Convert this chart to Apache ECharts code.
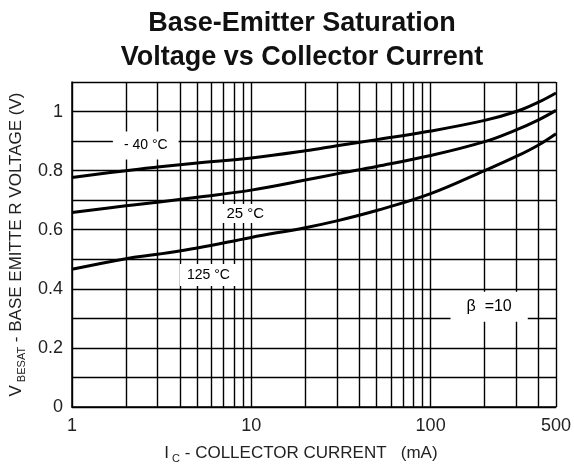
<!DOCTYPE html>
<html>
<head>
<meta charset="utf-8">
<script src="https://cdn.jsdelivr.net/npm/echarts@6/dist/echarts.min.js"></script>
<style>
  html, body { margin: 0; padding: 0; background: #fff; }
  #chart { width: 574px; height: 470px; }
</style>
</head>
<body>
<div id="chart"></div>
<script>
// collector current (mA), log scale
var currents = [1, 2, 3, 5, 10, 20, 30, 50, 100, 200, 300, 400, 500];
// V_BESAT (V) per temperature
var vMinus40 = [0.777, 0.800, 0.812, 0.826, 0.843, 0.867, 0.884, 0.905, 0.934, 0.970, 1.000, 1.032, 1.063];
var v25 = [0.658, 0.681, 0.693, 0.710, 0.734, 0.768, 0.789, 0.814, 0.851, 0.898, 0.938, 0.972, 1.004];
var v125 = [0.466, 0.502, 0.517, 0.538, 0.574, 0.607, 0.630, 0.665, 0.722, 0.800, 0.848, 0.887, 0.925];

var xGridValues = [1, 2, 3, 4, 5, 6, 7, 8, 9, 10, 20, 30, 40, 50, 60, 70, 80, 90, 100, 200, 300, 400, 500];
var xLabelValues = [1, 10, 100, 500];

// curve labels: [current, voltage, text]
var curveLabels = [
    [2.58, 0.885, '- 40 °C'],
    [9.26, 0.655, '25 °C'],
    [5.77, 0.447, '125 °C'],
    [212, 0.339, 'β  =10']
];

var chart = echarts.init(document.getElementById('chart'));

function pairs(ys) {
    return currents.map(function (x, i) {
        return [x, ys[i]];
    });
}

var font = '"Liberation Sans", Arial, sans-serif';

var lineStyle = { color: '#000', width: 3 };

var option = {
    animation: false,
    title: {
        text: 'Base-Emitter Saturation\nVoltage vs Collector Current',
        left: 297,
        textAlign: 'center',
        top: 2,
        textStyle: {
            fontFamily: font,
            fontWeight: 'bold',
            fontSize: 27,
            lineHeight: 34,
            color: '#111'
        }
    },
    grid: {
        left: 71,
        right: 18,
        top: 82,
        bottom: 63
    },
    xAxis: {
        type: 'log',
        logBase: 10,
        min: 1,
        max: 500,
        name: '{n|I}{s| C}{n| - COLLECTOR CURRENT   (mA)}',
        nameLocation: 'middle',
        nameGap: 36,
        nameTextStyle: {
            padding: [0, 26, 0, 0],
            rich: {
                n: { fontFamily: font, fontSize: 17, color: '#222' },
                s: { fontFamily: font, fontSize: 11, color: '#222', verticalAlign: 'bottom', padding: [10, 0, 0, 0] }
            }
        },
        axisLine: { lineStyle: { color: '#000', width: 1.5 } },
        axisTick: { show: false, customValues: xGridValues },
        axisLabel: {
            customValues: xLabelValues,
            margin: 10,
            fontFamily: font,
            fontSize: 18,
            color: '#222'
        },
        splitLine: { show: true, lineStyle: { color: '#000', width: 1.4 } }
    },
    yAxis: {
        type: 'value',
        min: 0,
        max: 1.1,
        interval: 0.1,
        name: '{n|V}{s| BESAT}{n| - BASE EMITTE R VOLTAGE (V)}',
        nameLocation: 'middle',
        nameGap: 42,
        nameTextStyle: {
            rich: {
                n: { fontFamily: font, fontSize: 17, color: '#222' },
                s: { fontFamily: font, fontSize: 11, color: '#222', verticalAlign: 'bottom', padding: [10, 0, 0, 0] }
            }
        },
        axisLine: { show: true, lineStyle: { color: '#000', width: 1.5 } },
        axisTick: { show: false },
        axisLabel: {
            margin: 9,
            fontFamily: font,
            fontSize: 18,
            color: '#222',
            formatter: function (v) {
                var k = Math.round(v * 10);
                return k % 2 === 0 ? String(k / 10) : '';
            }
        },
        splitLine: { show: true, lineStyle: { color: '#000', width: 1.4 } }
    },
    series: [
        {
            name: '-40 °C',
            type: 'line',
            smooth: 0.4,
            symbol: 'none',
            lineStyle: lineStyle,
            data: pairs(vMinus40)
        },
        {
            name: '25 °C',
            type: 'line',
            smooth: 0.4,
            symbol: 'none',
            lineStyle: lineStyle,
            data: pairs(v25)
        },
        {
            name: '125 °C',
            type: 'line',
            smooth: 0.4,
            symbol: 'none',
            lineStyle: lineStyle,
            data: pairs(v125)
        },
        {
            type: 'scatter',
            symbolSize: 1,
            z: 5,
            silent: true,
            itemStyle: { opacity: 1, color: '#fff' },
            data: curveLabels.map(function (d, i) {
                var pads = [[7, 11], [2, 13], [4, 7], [7, 16]];
                var sizes = [14, 15, 14, 16];
                return {
                    value: [d[0], d[1]],
                    label: {
                        show: true,
                        position: 'inside',
                        formatter: d[2],
                        backgroundColor: '#fff',
                        padding: pads[i],
                        fontFamily: font,
                        fontSize: sizes[i],
                        color: '#000',
                        opacity: 1
                    }
                };
            })
        }
    ]
};

chart.setOption(option);
</script>
</body>
</html>
